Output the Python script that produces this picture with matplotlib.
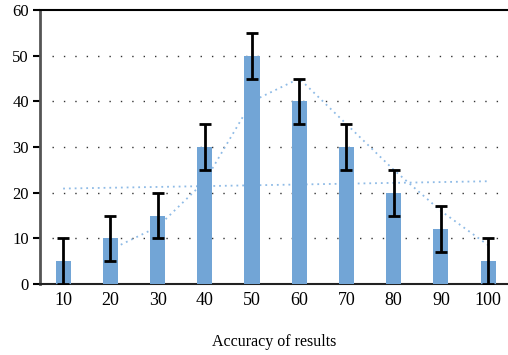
import matplotlib
matplotlib.use("Agg")
import matplotlib.pyplot as plt
import numpy as np

categories = ["10", "20", "30", "40", "50", "60", "70", "80", "90", "100"]
values = [5, 10, 15, 30, 50, 40, 30, 20, 12, 5]
errors = [5, 5, 5, 5, 5, 5, 5, 5, 5, 5]
# moving-average trend, starting at category "20"
ma_values = [7.5, 12.5, 22.5, 40, 45, 35, 25, 16, 8.5]
# linear trend endpoints at "10" and "100"
lin_values = [20.9, 22.5]
yticks = [0, 10, 20, 30, 40, 50, 60]

plt.rcParams['font.family'] = ['Liberation Serif', 'DejaVu Serif']

fig = plt.figure(figsize=(5.08, 3.55), dpi=100)
ax = fig.add_axes([40/508, 1-284/355, 468/508, 274/355])

x = np.arange(len(categories))
ax.bar(x, values, width=0.32, color='#72a5d6', zorder=3)
ax.errorbar(x, values, yerr=errors, fmt='none', ecolor='black', elinewidth=2,
            capsize=4, capthick=2, zorder=4)

ax.plot(x[1:], ma_values, linestyle=(0, (1, 2.2)), color='#8fbbe6', lw=1.3, zorder=2)
ax.plot([x[0], x[-1]], lin_values, linestyle=(0, (1, 2.2)), color='#8fbbe6', lw=1.3, zorder=2)

for yv in yticks[1:-1]:
    ax.axhline(yv, xmin=12/468, xmax=1, color='#333333', lw=1.0,
               linestyle=(0, (1, 7.2)), zorder=1)

ax.set_xlim(-0.49, 9.42)
ax.set_ylim(0, 60)
ax.set_yticks(yticks)
ax.set_xticks(x)
ax.set_xticklabels(categories)
ax.tick_params(axis='y', length=5, width=1.5, direction='out', labelsize=12, pad=3)
ax.tick_params(axis='x', length=0, labelsize=13, pad=6)

ax.spines['right'].set_visible(False)
ax.spines['top'].set_color('black')
ax.spines['top'].set_linewidth(1.5)
ax.spines['left'].set_color('#555555')
ax.spines['left'].set_linewidth(2)
ax.spines['bottom'].set_color('#222222')
ax.spines['bottom'].set_linewidth(1.5)

ax.set_xlabel('Accuracy of results', fontsize=11.5, labelpad=18)

fig.savefig('out.png', dpi=100)
